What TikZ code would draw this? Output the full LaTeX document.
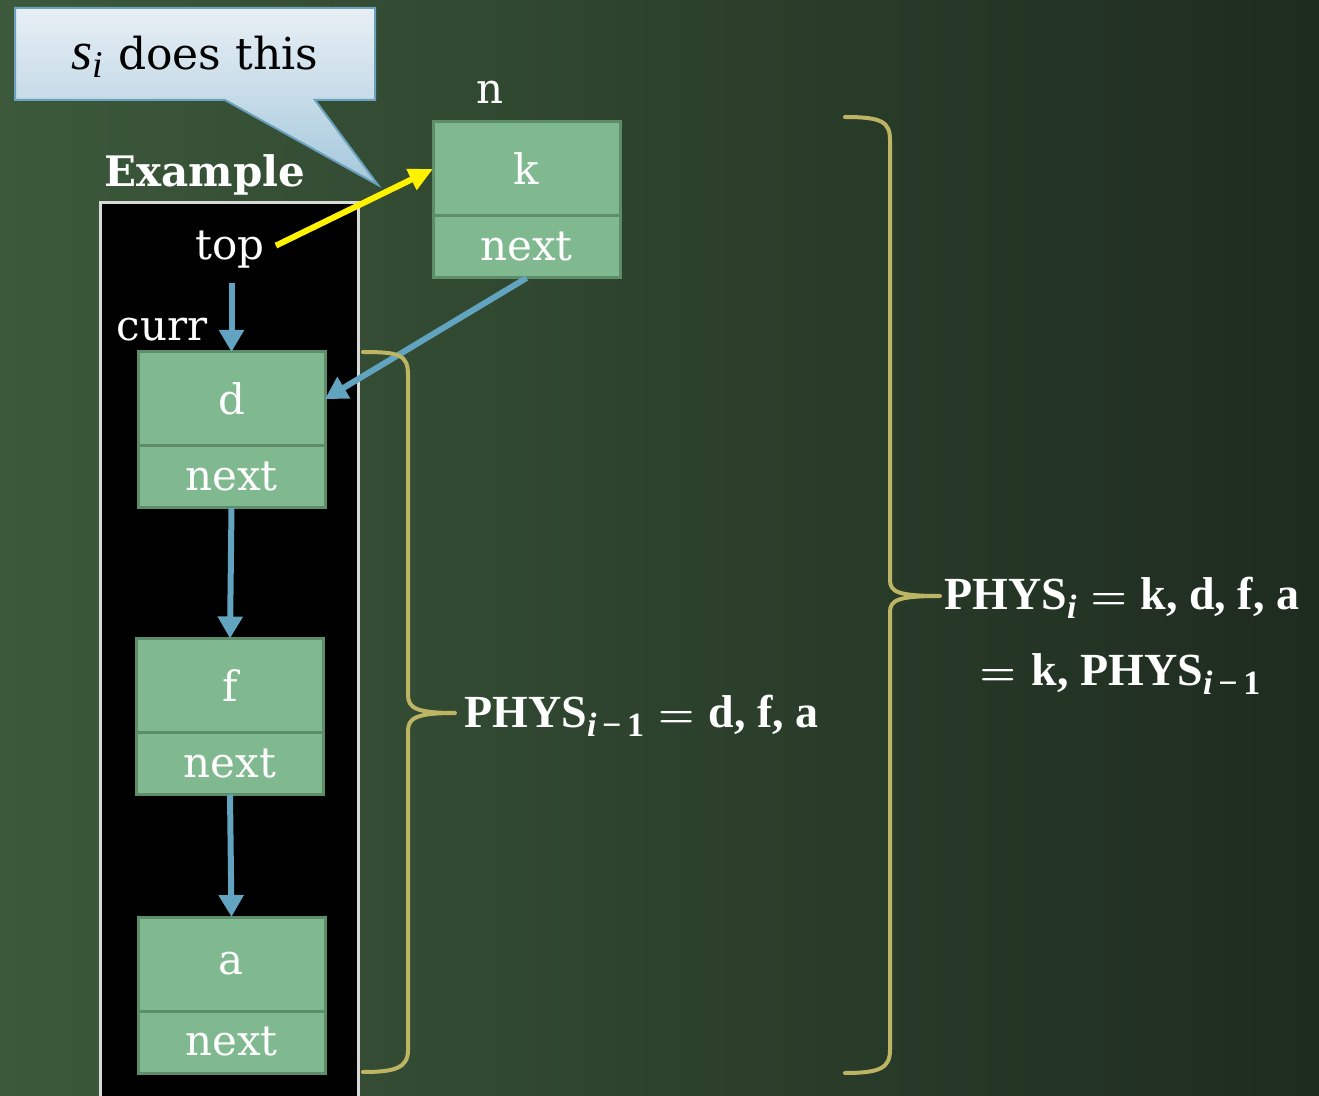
\documentclass[tikz,border=0pt]{standalone}
\usepackage{fontspec}
\setmainfont{DejaVu Serif}
\newfontfamily\physfont{Liberation Serif}
\usetikzlibrary{arrows.meta,positioning}
\definecolor{cellfill}{HTML}{80B990}
\definecolor{celldraw}{HTML}{5E8D69}
\definecolor{arrowblue}{HTML}{62A3BF}
\definecolor{bracecol}{HTML}{BDB464}
\definecolor{bgA}{HTML}{3C593B}
\definecolor{bgB}{HTML}{1E2B1F}
\definecolor{callA}{HTML}{E8EFF5}
\definecolor{callB}{HTML}{A5C8DB}
\definecolor{callD}{HTML}{6AA2BF}
\newcommand\sbx[1]{\raisebox{-0.45ex}{\fontsize{17}{20}\selectfont #1}}
\newcommand\eqsign{{\fontsize{20}{20}\selectfont$\boldsymbol{=}$}}
\newcommand\eqs{\hspace{7pt}\eqsign\hspace{7pt}}
\usepackage{amsmath}
\begin{document}
\begin{tikzpicture}[x=0.5pt,y=-0.5pt,
  base/.style={font=\fontsize{21}{25}\selectfont, text=white, inner sep=1pt},
  cellA/.style={base, draw=celldraw, fill=cellfill, line width=1.5pt, minimum width=93.5pt, minimum height=47pt, inner sep=0pt, outer sep=0pt},
  cellB/.style={cellA, minimum height=31pt, anchor=north},
  blarrow/.style={draw=arrowblue, line width=3pt, -{Triangle[length=11pt,width=12pt]}},
  yarrow/.style={draw=yellow, line width=3pt, -{Triangle[length=12pt,width=11pt]}},
  bracestyle/.style={draw=bracecol, line width=2pt, line cap=round},
  phys/.style={font=\physfont\bfseries\fontsize{23}{27}\selectfont, text=white, inner sep=1pt}
]
\useasboundingbox (0,0) rectangle (1319,1096);
\clip (0,0) rectangle (1319,1096);
% background
\shade[left color=bgA, right color=bgB] (0,0) rectangle (1319,1096);

% callout
\shade[top color=callA, bottom color=callB, draw=callD, line width=1pt]
  (15,8) -- (375,8) -- (375,100) -- (315,100) -- (378,185) -- (225,100) -- (15,100) -- cycle;
\node[base, text=black, font=\fontsize{22}{26}\selectfont] (callout) at (195,57)
  {{\physfont\itshape\fontsize{27}{30}\selectfont s\textsubscript{i}} does this};

\node[base, font=\bfseries\fontsize{21}{25}\selectfont] (example) at (205,175) {Example};

% stack box
\draw[fill=black, draw=black!15, line width=1.5pt] (100,203) rectangle (358,1110);

\node[base] (top) at (230,250) {top};
\node[base] (curr) at (162,330) {curr};
\node[base] (n) at (490,92) {n};

% list nodes
\node[cellA] (k) at (526.5,169) {k};
\node[cellB] (kn) at (k.south) {next};
\node[cellA] (d) at (231.5,399) {d};
\node[cellB] (dn) at (d.south) {next};
\node[cellA] (f) at (230,685.5) {f};
\node[cellB] (fn) at (f.south) {next};
\node[cellA] (a) at (231.5,964) {a};
\node[cellB] (an) at (a.south) {next};

% connectors
\draw[yarrow, shorten <=5pt] (top.east) -- (k.west);
\draw[blarrow, shorten <=6pt] (top.south -| d.north) -- (d.north);
\draw[blarrow] (kn.south) -- (d.east);
\draw[blarrow] (dn.south) -- (f.north);
\draw[blarrow] (fn.south) -- (a.north);

% braces
\draw[bracestyle] (363,352) .. controls (400,352) and (408,355) .. (408,375)
  -- (408,695) .. controls (408,708) and (416,713) .. (455,713)
  (455,713) .. controls (416,713) and (408,718) .. (408,731)
  -- (408,1050) .. controls (408,1068) and (395,1072) .. (363,1072);
\draw[bracestyle] (845,117) .. controls (882,117) and (890,122) .. (890,140)
  -- (890,580) .. controls (890,592) and (898,596) .. (940,596)
  (940,596) .. controls (898,596) and (890,600) .. (890,612)
  -- (890,1050) .. controls (890,1068) and (880,1073) .. (845,1073);

\node[phys, anchor=west] (phys1) at (462,716) {PHYS\sbx{\textit{i}\,−\,1}\eqs d, f, a};
\node[phys, anchor=west] (phys2) at (942,598) {PHYS\sbx{\textit{i}}\eqs k, d, f, a};
\node[phys] (phys3) at (1120,674) {\eqsign\hspace{8pt}k, PHYS\sbx{\textit{i}\,−\,1}};
\end{tikzpicture}
\end{document}
